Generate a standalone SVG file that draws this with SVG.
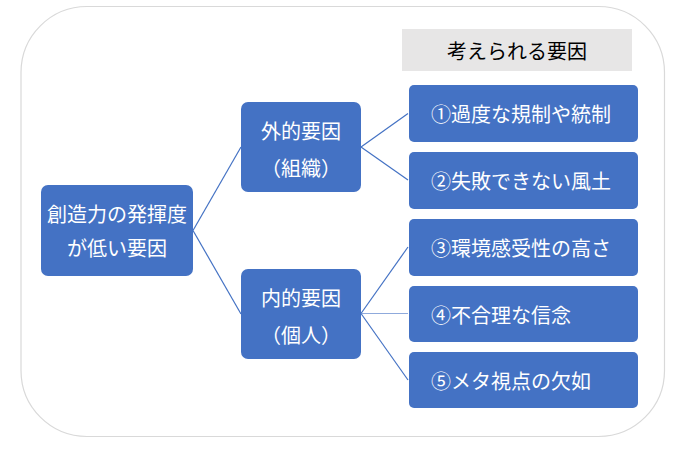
<svg xmlns="http://www.w3.org/2000/svg" width="687" height="449" viewBox="0 0 687 449">
<style>
.node{fill:#4472c4}
.t{font-family:"Noto Sans CJK JP","Noto Sans",sans-serif;font-size:20px;fill:#ffffff;dominant-baseline:central}
.c{text-anchor:middle}
.conn line{stroke:#4472c4;stroke-width:1.2}
</style>
<rect x="21" y="6.5" width="643.5" height="430" rx="66" ry="66" fill="#ffffff" stroke="#d9d9d9" stroke-width="1.2"/>
<g id="header">
<rect x="402" y="29" width="230" height="42" fill="#e7e6e6"/>
<text class="t c" x="517" y="50" style="fill:#000000">考えられる要因</text>
</g>
<g class="conn" id="connectors">
<line x1="193" y1="230.5" x2="241" y2="147"/>
<line x1="193" y1="230.5" x2="241" y2="314"/>
<line x1="361" y1="147" x2="408" y2="113.5"/>
<line x1="361" y1="147" x2="408" y2="180"/>
<line x1="361" y1="313.5" x2="408" y2="247"/>
<line x1="361" y1="313.5" x2="408" y2="313.5" style="stroke:#8faadc"/>
<line x1="361" y1="313.5" x2="408" y2="380"/>
</g>
<g id="root">
<rect class="node" x="41" y="185" width="152" height="91" rx="7"/>
<text class="t c" x="117" y="213">創造力の発揮度</text>
<text class="t c" x="117" y="247">が低い要因</text>
</g>
<g id="external">
<rect class="node" x="241" y="102" width="120" height="90" rx="7"/>
<text class="t c" x="301" y="130">外的要因</text>
<text class="t c" x="301" y="167">（組織）</text>
</g>
<g id="internal">
<rect class="node" x="241" y="269" width="120" height="90" rx="7"/>
<text class="t c" x="301" y="297">内的要因</text>
<text class="t c" x="301" y="334">（個人）</text>
</g>
<g id="f1">
<rect class="node" x="409" y="85" width="229" height="57" rx="5"/>
<text class="t" x="431" y="113.5">①過度な規制や統制</text>
</g>
<g id="f2">
<rect class="node" x="409" y="152" width="229" height="57" rx="5"/>
<text class="t" x="431" y="180.5">②失敗できない風土</text>
</g>
<g id="f3">
<rect class="node" x="409" y="219" width="229" height="57" rx="5"/>
<text class="t" x="431" y="247.5">③環境感受性の高さ</text>
</g>
<g id="f4">
<rect class="node" x="409" y="286" width="229" height="56" rx="5"/>
<text class="t" x="431" y="314">④不合理な信念</text>
</g>
<g id="f5">
<rect class="node" x="409" y="352" width="229" height="56" rx="5"/>
<text class="t" x="431" y="380">⑤メタ視点の欠如</text>
</g>
</svg>
